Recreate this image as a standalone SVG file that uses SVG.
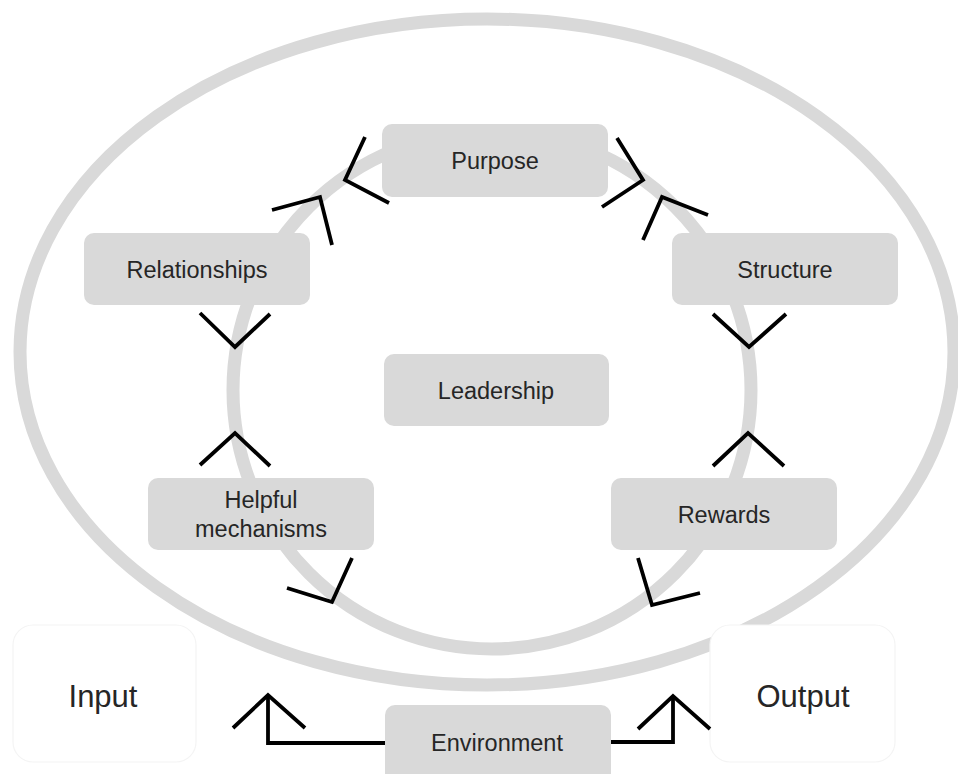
<svg xmlns="http://www.w3.org/2000/svg" width="958" height="774" viewBox="0 0 958 774">
<style>
.ring{fill:none;stroke:#d9d9d9;stroke-width:13}
.box{fill:#d9d9d9}
.io{fill:#ffffff;stroke:#f4f4f4;stroke-width:1.2}
.t{font-family:"Liberation Sans",Arial,sans-serif;font-size:23.5px;fill:#262626;text-anchor:middle;dominant-baseline:central}
.big{font-size:31px}
.ar{fill:none;stroke:#000000;stroke-width:3.8;stroke-linecap:butt;stroke-linejoin:miter}
</style>
<rect width="958" height="774" fill="#ffffff"/>
<g id="outer-ring"><ellipse class="ring" cx="487" cy="352" rx="467" ry="333"/></g>
<g id="inner-ring"><circle class="ring" cx="492" cy="390" r="259"/></g>
<g id="input"><rect class="io" x="13" y="625" width="183" height="137" rx="20"/><text class="t big" x="103" y="696">Input</text></g>
<g id="output"><rect class="io" x="710" y="625" width="185" height="137" rx="20"/><text class="t big" x="803" y="696">Output</text></g>
<g id="purpose"><rect class="box" x="382" y="124" width="226" height="73" rx="10"/><text class="t" x="495" y="161">Purpose</text></g>
<g id="relationships"><rect class="box" x="84" y="233" width="226" height="72" rx="10"/><text class="t" x="197" y="270">Relationships</text></g>
<g id="structure"><rect class="box" x="672" y="233" width="226" height="72" rx="10"/><text class="t" x="785" y="270">Structure</text></g>
<g id="leadership"><rect class="box" x="384" y="354" width="225" height="72" rx="10"/><text class="t" x="496" y="391">Leadership</text></g>
<g id="helpful-mechanisms"><rect class="box" x="148" y="478" width="226" height="72" rx="10"/><text class="t" x="261" y="500">Helpful</text><text class="t" x="261" y="529">mechanisms</text></g>
<g id="rewards"><rect class="box" x="611" y="478" width="226" height="72" rx="10"/><text class="t" x="724" y="515">Rewards</text></g>
<g id="environment"><rect class="box" x="385" y="705" width="226" height="80" rx="10"/><text class="t" x="497" y="743">Environment</text></g>
<g id="connectors">
<polyline class="ar" points="365,137 345,180 389,203"/>
<polyline class="ar" points="272,210 320,197 332,245"/>
<polyline class="ar" points="617,138 643,180 602,207"/>
<polyline class="ar" points="708,215 662,197 643,240"/>
<polyline class="ar" points="200,313 235,347 270,314"/>
<polyline class="ar" points="200,465 235,433 270,466"/>
<polyline class="ar" points="713,314 749,347 786,314"/>
<polyline class="ar" points="713,466 748,433 784,466"/>
<polyline class="ar" points="287,588 332,602 352,558"/>
<polyline class="ar" points="638,558 652,605 700,593"/>
<polyline class="ar" points="233,728 268,695 305,728"/>
<polyline class="ar" points="385,743 268,743 268,695"/>
<polyline class="ar" points="638,729 673,696 710,729"/>
<polyline class="ar" points="611,742 673,742 673,696"/>
</g>
</svg>
